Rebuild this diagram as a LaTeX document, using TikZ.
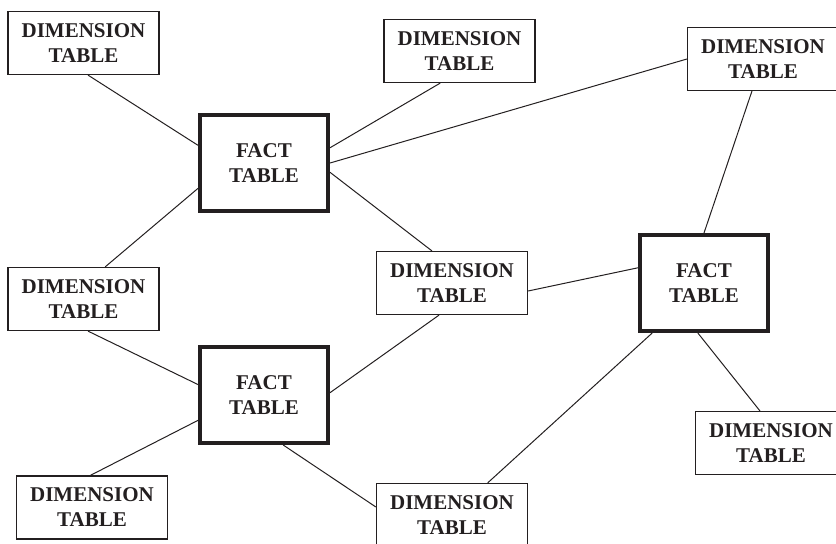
\documentclass[tikz,border=0pt]{standalone}
\usepackage{fontspec}
\setmainfont{Liberation Serif}
\usepackage{tikz}
\usetikzlibrary{positioning,calc}
\definecolor{inkdark}{RGB}{35, 31, 32}

\begin{document}
\begin{tikzpicture}[x=0.5pt, y=-0.5pt,
    dimtable/.style={draw=inkdark, rectangle, line width=0.6pt, minimum width=75.5pt,
        minimum height=31.5pt, align=center, inner sep=0pt,
        font=\fontsize{10.5}{12.5}\selectfont\bfseries, text=inkdark},
    facttable/.style={draw=inkdark, rectangle, line width=2.2pt, minimum width=63.8pt,
        minimum height=47.8pt, align=center, inner sep=0pt,
        font=\fontsize{10.5}{12.5}\selectfont\bfseries, text=inkdark},
    link/.style={draw=inkdark, line width=0.5pt}]
    \useasboundingbox (0,0) rectangle (836,543);
    % Fact tables
    \node[facttable] (fact1) at (264,163) {FACT\\TABLE};
    \node[facttable] (fact2) at (264,395) {FACT\\TABLE};
    \node[facttable] (fact3) at (704,283) {FACT\\TABLE};
    % Dimension tables
    \node[dimtable] (dim1) at (83.5,43) {DIMENSION\\TABLE};
    \node[dimtable] (dim2) at (459.5,51) {DIMENSION\\TABLE};
    \node[dimtable] (dim3) at (763,59) {DIMENSION\\TABLE};
    \node[dimtable] (dim4) at (83.5,299) {DIMENSION\\TABLE};
    \node[dimtable] (dim5) at (452,283) {DIMENSION\\TABLE};
    \node[dimtable] (dim6) at (771,443) {DIMENSION\\TABLE};
    \node[dimtable] (dim7) at (92,507.5) {DIMENSION\\TABLE};
    \node[dimtable] (dim8) at (452,515) {DIMENSION\\TABLE};
    % Links of the first fact table
    \draw[link] (dim1.278) -- (fact1.165);
    \draw[link] (fact1.13) -- (dim2.239);
    \draw[link] (fact1.east) -- (dim3.west);
    \draw[link] (fact1.352) -- (dim5.122);
    \draw[link] (fact1.201) -- (dim4.56);
    % Links of the second fact table
    \draw[link] (dim4.278) -- (fact2.171);
    \draw[link] (fact2.201) -- (dim7.93);
    \draw[link] (fact2.291) -- (dim8.174);
    \draw[link] (fact2.2) -- (dim5.248);
    % Links of the third fact table
    \draw[link] (dim5.354) -- (fact3.167);
    \draw[link] (fact3.north) -- (dim3.251);
    \draw[link] (fact3.224) -- (dim8.42);
    \draw[link] (fact3.263) -- (dim6.109);
\end{tikzpicture}
\end{document}
